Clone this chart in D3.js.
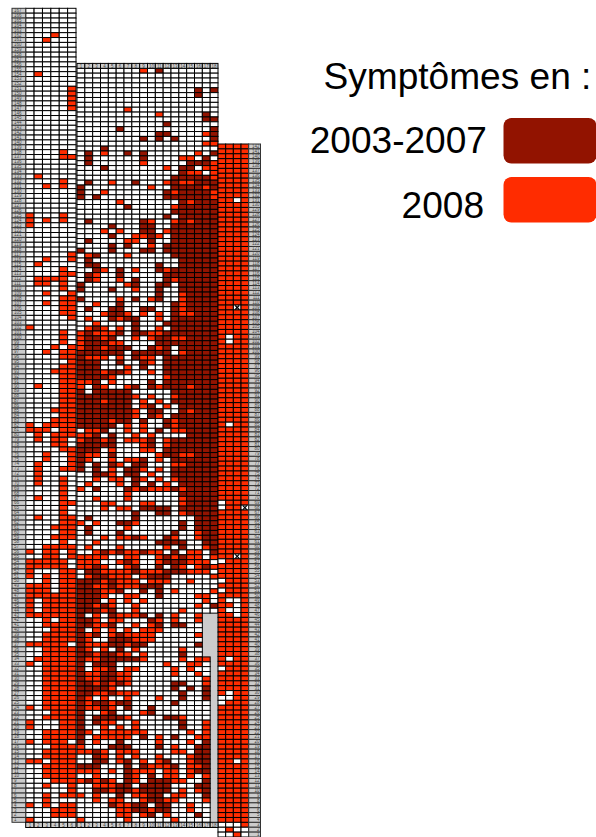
<!DOCTYPE html>
<html>
<head>
<meta charset="utf-8">
<style>
  html, body { margin: 0; background: #fff; }
  svg { display: block; }
  text { font-family: "Liberation Sans", Arial, sans-serif; }
</style>
</head>
<body>
<script src="https://cdn.jsdelivr.net/npm/d3@7"></script>
<script>
'use strict'

// one string per row, one char per column:
// . nothing, d 2003-2007, r 2008, x no data, m unknown year
const leftRows = [
  '......', '......', '......', '......', '......', '...r..', '..r...', '......', '......', '......',
  '......', '......', '......', '.r....', '......', '......', '.....r', '.....r', '.....r', '.....r',
  '.....r', '......', '......', '......', '......', '......', '......', '......', '......', '....r.',
  '....rr', '......', '......', '......', '.r....', '....r.', '..r.r.', '......', '......', '......',
  '......', '......', 'r...r.', 'r.r.r.', 'r.....', '......', '......', '......', '......', '......',
  '.....r', '..r..r', '.r....', '....r.', '....rr', '.rrrr.', '.rr.r.', '....r.', '..r..r', '....rr',
  '..r.rr', '....rr', '....rr', '.....r', '......', 'r.....', '....r.', '....r.', '....r.', '...r.r',
  '..r.rr', '....rr', '.....r', '....rr', '...rrr', '....rr', '....rr', '.r..rr', '....rr', '....rr',
  '....rr', '....rr', '...rrr', '....rr', '...rrr', 'r.rrrr', 'rrr.rr', '.r.rrr', '.r.rr.', '...rr.',
  '....rr', '..r..r', '..r..r', '.r...r', '.r..rr', '.r....', '.r..r.', '.r..r.', '....r.', '....r.',
  '.r..r.', '....rr', '....r.', '....r.', '.r..rr', '....rr', '...rrr', '....rr', '...rrr', '....r.',
  '..rrrr', 'r.rr.r', '..rr.r', 'rrrrr.', 'rrrrr.', 'r...rr', 'r.r.rr', '..r.rr', 'rrr.rr', 'rrr.rr',
  'rrrrrr', 'r.rrrr', 'r.rrrr', 'r.rrrr', 'rrrrrr', '..r.rr', '..rrrr', '...rrr', '..rrrr', '..rrrr',
  'rrrrr.', '..rrrr', '..rrrr', '.rrrrr', 'r.rrrr', '..rrrr', '..rrrr', '..rrrr', '..rrrr', '..rrrr',
  '..rrrr', '..rrrr', '..rrrr', 'r.rrrr', '...rrr', '..rrrr', 'r...rr', 'r...rr', '..rrrr', '..rrrr',
  'r.rrr.', '...rrr', '..rrrr', '..rrrr', 'rr.rrr', '..rrrr', '..rrrr', '..rrrr', '...rrr', '..r..r',
  '.....r', '..r.rr', '..r...', 'r.r.rr', '...rrr', '...rrr', 'r.....'
]

const middleRows = [
  '........r.d.......', '..................', '..................', '..................', '...............d.d',
  '...............d..', '..................', '..................', '......r...........', '..........r.....d.',
  '................dd', '...........d......', '.....d...........d', '..........dd....rd', '........d.d.d....d',
  '................rr', '...d..............', '.d.r..d.d......r.d', '.d......d....rr.d.', '.d......r.....dddr',
  '...d.......r.dd.rr', '.............drr.r', '............dddddr', '.d..r..d...rdrrddd', 'd........r..ddddrd',
  'd..r.......drddddr', 'd.d........ddddddr', '.....r.......drddd', '......d.....rddddd', '............dddddd',
  '...........d.ddddd', '.d......dr..rdrddd', '....d...dd..dddddd', '...r.r..dd.rdddddd', '....d..rrdr.dddddd',
  '.d....rr.d..dddddd', '....d.d..r.ddddddd', 'd...d...dd.ddddddd', '.rd...r.....dddddd', '.d...........ddddd',
  '.dd.......d..ddddd', '..dr.d.r..drdddddd', '.dr..d.....ddddddd', '.dr..r.d...drddddd', 'd.....rd..dd.ddddd',
  'd...d..r..d..ddddd', '..........d..rdddd', 'd....r.d.rd..rdddd', '..r..d......drdddd', '.d..dd..dd..drdddd',
  '...rddr.r.r.drrddd', '.r..drdd..r.dddddd', '..r....d...ddddddd', '.rdr.r.d..r.dddddd', 'rdrrrd.ddrrddddddd',
  'rddrd..r.rddrrdddd', 'rdddrr....dddddddd', 'rddrddd..drd.ddddd', 'dddddd.ddddd.rdddd', 'drrr.r.drr.ddddddd',
  'ddd..d..dr.ddddddd', 'ddd...r.d..ddddddd', 'dddrddr..r.ddddddd', 'ddddr......rdddddd', 'rrd.r....d.ddddddd',
  'r.dr..rd.drdddrddd', 'd.ddddd.....dddddd', 'dddddddr.r..rddddd', 'dddrddd.r.r.dddddd', 'ddddddd.rd.r.ddddd',
  'dddddddr.dd..drddd', 'dddddddr.dr.dddddd', 'ddddrdd.d..drddddd', 'ddddd.r.r..drddddd', '.rrd..r.r.d.rrdddd',
  'rrd.d..r.r....dddd', 'rddrd.rrrd.rdddddd', 'ddddd...rd.rdddddd', 'ddd.r...rr.ddddddd', 'drr.d.....rddrrddd',
  'dr..r.rrd.r.dddddd', 'd.d.dr.dd...rrdddd', 'd.d.r.ddr.r.dddddd', '..ddr.dd.r..dddddd', '..r.rr.dr.r.rddddd',
  '.r...r.d.d.r.ddddd', 'r.d...drdrrrdrdddd', '......r......ddddd', '..r...r......rdddd', '...rr...rr...rdddd',
  '...r.rr.dddd.ddddd', '.......d..dd.rdddd', '.d.....d.......ddd', 'r.r..ddr.....d.ddd', '.d....r......d.ddd',
  '.d...d......d..rdd', '...r.rrdr..dr..rdd', '..r.......dddd..dd', '.r...r.....r.d..rd', '..rdrdrrdrr.d.rr.d',
  'rrrr..rr..rdrdrr.r', 'rrr..rdr..rdddrrr.', 'rrdr..rd..d.dr.rdr', '.ddrrrrdrrrdddrrr.', '.rddrrr.rddd.....r',
  'dddrdrrr.rrr..r...', 'ddrrdrrrddd.......', 'dddrrd..d.d.r....r', 'dddr..rr..d....rr.', 'ddd.r.r.r.......r.',
  'ddrdr..r.......r.d', 'dddrd..r.....r....', 'd.r.drrrd.d.r..rxx', 'ddr.rr...dr.r..rxx', 'ddrrd..r.rd.dd..xx',
  'd.r.r.r.rrr.....xx', 'drd.rdrrrr.....rxx', 'dr..dddrrr......xx', 'drrrddrdd......dxx', 'dr.r.d.r.....r..xx',
  'ddrddrr.r....d..xx', 'drrdddddr....r.rrx', 'd.ddd......r..rr.x', 'd.rrd.rr....r.r..x', 'drrddrr.....r..r.x',
  'drrddrr.........rx', 'ddrdrdr.....dd..rx', 'ddddr.......d.d.dx', 'ddrrdrrr.....d..dx', 'dr.r..r...r..d..dx',
  'drddrdd.....d....x', 'drrdr.d..d.......x', 'd..rd...rd.......x', 'd.ddddr....ddr...x', 'd.drr..r.....d..rx',
  'd..r.r.r.....d..rx', 'dr.rrrrrr.....r.rx', 'd.rrrrr.d.r.d..rrx', 'd.r..d....r...r.dx', 'r...ddd...d.r..ddx',
  'rrdr.rrr....rr.ddx', '..dr.r.r..r...rddx', '..dd.rd.r.rd..rddx', 'ddd...d.drrrd.rrdx', 'rrr.r.drrr.rr.rddx',
  '..r...dr.d.rr.r.rx', 'rdrdr.dr.dddrr..dx', '..rrrdd.dddd...ddx', '..ddrddrdddd.r.rdx', 'r.r..d.rrdd.rr..dx',
  '..r.rr..rddrr...rx', '....drrdd.dd..r..x', '.....rrddrdd..r..x', '.....rr.rd.r...d.x', 'r.....r.....r....x'
]

const rightRows = [
  'rrrr', 'rrrr', 'rrrr', 'rrrr', 'rrrr', 'rrrr', 'rrrr', 'rrrr', 'rrrr', 'rrrr',
  'rrrr', 'rr.r', 'rrrr', 'rrrr', 'rrrr', 'rrrr', 'rrrr', 'rrrr', 'rrrr', 'rrrr',
  'rrrr', 'rrrr', 'rrrr', 'rrrr', 'rrrr', 'rrrr', 'rrrr', 'rrrr', 'rrrr', 'rrrr',
  'rrrr', 'rrrr', 'rrrr', 'rrmr', 'rrrr', 'rrrr', 'rrrr', 'rrrr', 'rrrr', 'r.rr',
  'r.rr', 'rrrr', 'rrrr', 'rrrr', 'rrrr', 'rrrr', 'rrrr', 'rrrr', 'rrrr', 'rrrr',
  'rrrr', 'rrrr', 'rrrr', 'rrrr', 'rrrr', 'rrrr', 'rrrr', 'r.rr', 'rrrr', 'rrrr',
  'rrrr', 'rrrr', 'rrrr', 'rrrr', 'rrrr', 'rrrr', 'rrrr', 'rrrr', 'rrrr', 'rrrr',
  'rrrr', 'rrrr', 'rrrr', '.rrr', '.rrm', 'rrrr', 'rrrr', 'rrrr', 'rrrr', 'rrrr',
  'rrrr', 'rrrr', 'rrrr', 'rrrr', 'rrmr', '.rrr', 'rrrr', 'rrrr', 'rrrr', '.rrr',
  'rrrr', '.rrr', 'rrrr', 'r..r', 'rr.r', 'r..r', 'rr.r', 'rrrr', 'rrrr', 'rrrr',
  'rrrr', 'rrrr', 'rrrr', 'rrrr', 'rrrr', 'r.rr', 'rrrr', '.rrr', 'rrrr', 'rrrr',
  'rrrr', 'rrrr', 'r.rr', '..rr', '.rrr', 'rrrr', 'rrrr', 'rrrr', 'rrrr', 'rrrr',
  'rrrr', 'rrrr', 'rrrr', 'rrrr', 'rrrr', 'rrrr', 'rr.r', 'rrrr', 'rrrr', 'rrrr',
  'rrrr', 'rrrr', 'rrrr', 'rrrr', 'rrrr', 'rrrr', 'rrrr', 'rrrr', 'rrrr', '...r',
  '.r..', '..r.'
]

const legendTitle = 'Symptômes en :'
const legendLabels = ['2003-2007', '2008']
const legendCodes = ['d', 'r']

const width = 596
const height = 837

const color = d3.scaleOrdinal()
  .domain(['.', 'd', 'r', 'x', 'm'])
  .range(['#fff', '#921300', '#ff2c00', '#ccc', '#fff'])

const svg = d3.select('body').append('svg')
  .attr('width', width)
  .attr('height', height)

function band (n, from, to) {
  return d3.scaleBand().domain(d3.range(1, n + 1)).range([from, to])
}

function drawPanel (rows, x, top, bottom) {
  const y = d3.scaleBand().domain(d3.range(rows.length)).range([top, bottom])
  const cells = rows.flatMap((row, i) => row.split('').map((v, j) => ({ v: v, row: i, col: j + 1 })))
  const g = svg.append('g')

  g.selectAll('rect.nodata')
    .data(cells.filter(d => d.v === 'x'))
    .enter().append('rect')
    .attr('class', 'nodata')
    .attr('x', d => x(d.col) - 0.5)
    .attr('y', d => y(d.row) - 0.5)
    .attr('width', x.bandwidth() + 1)
    .attr('height', y.bandwidth() + 1)
    .attr('fill', color('x'))

  g.selectAll('rect.cell')
    .data(cells.filter(d => d.v !== 'x'))
    .enter().append('rect')
    .attr('class', 'cell')
    .attr('x', d => x(d.col))
    .attr('y', d => y(d.row))
    .attr('width', x.bandwidth())
    .attr('height', y.bandwidth())
    .attr('fill', d => color(d.v))
    .attr('stroke', '#000')
    .attr('stroke-width', 1)

  g.selectAll('path.unknown')
    .data(cells.filter(d => d.v === 'm'))
    .enter().append('path')
    .attr('class', 'unknown')
    .attr('d', d3.symbol(d3.symbolX, 12))
    .attr('transform', d => 'translate(' + (x(d.col) + x.bandwidth() / 2) + ',' + (y(d.row) + y.bandwidth() / 2) + ')')
    .attr('stroke', '#000')
    .attr('stroke-width', 1.2)
    .attr('fill', 'none')

  return y
}

// row labels sit in a grey strip beside the cells
function rowStrip (rows, y, x0, x1, side, firstLabel) {
  const labels = d3.range(rows.length)
  const g = svg.append('g')

  g.selectAll('rect')
    .data(labels)
    .enter().append('rect')
    .attr('x', x0)
    .attr('y', d => y(d))
    .attr('width', x1 - x0)
    .attr('height', y.bandwidth())
    .attr('fill', '#ccc')
    .attr('stroke', '#333')
    .attr('stroke-width', 1)

  const axis = (side === 'left' ? d3.axisRight(y) : d3.axisLeft(y))
    .tickSize(0)
    .tickPadding(0)
    .tickFormat(d => firstLabel - d)

  const a = g.append('g')
    .attr('transform', 'translate(' + (side === 'left' ? x0 + 2 : x1 - 1) + ',0)')
    .call(axis)
  a.select('.domain').remove()
  a.selectAll('text').attr('font-size', 4.5).attr('fill', '#444')
}

function colStrip (x, y0, y1) {
  const g = svg.append('g')

  g.selectAll('rect')
    .data(x.domain())
    .enter().append('rect')
    .attr('x', d => x(d))
    .attr('y', y0)
    .attr('width', x.bandwidth())
    .attr('height', y1 - y0)
    .attr('fill', '#ccc')
    .attr('stroke', '#000')
    .attr('stroke-width', 1)

  const a = g.append('g')
    .attr('transform', 'translate(0,' + (y0 + 1) + ')')
    .call(d3.axisBottom(x).tickSize(0).tickPadding(0))
  a.select('.domain').remove()
  a.selectAll('text').attr('font-size', 4.5).attr('fill', '#444')
}

const xLeft = band(6, 25.7, 76)
const xMiddle = band(18, 77, 218)
const xRight = band(4, 218, 248.7)

const yLeft = drawPanel(leftRows, xLeft, 8.3, 822.3)
const yMiddle = drawPanel(middleRows, xMiddle, 68.3, 822.3)
const yRight = drawPanel(rightRows, xRight, 144, 837)

rowStrip(leftRows, yLeft, 12, 25.7, 'left', leftRows.length)
rowStrip(rightRows, yRight, 248.7, 260.5, 'right', rightRows.length)

colStrip(xMiddle, 63.4, 68.3)
colStrip(xLeft, 822.3, 827.5)
colStrip(xMiddle, 822.3, 827.5)

svg.append('text')
  .attr('x', 323.5)
  .attr('y', 89)
  .attr('font-size', 37.1)
  .attr('fill', '#000')
  .text(legendTitle)

const legendY = d3.scaleBand().domain(legendCodes).range([118, 236]).paddingInner(0)

const legend = svg.selectAll('g.legend')
  .data(legendCodes)
  .enter().append('g')
  .attr('class', 'legend')
  .attr('transform', d => 'translate(0,' + legendY(d) + ')')

legend.append('rect')
  .attr('x', 503.5)
  .attr('width', 93)
  .attr('height', 45.5)
  .attr('rx', 8)
  .attr('fill', d => color(d))

legend.append('text')
  .attr('x', (d, i) => i === 0 ? 487 : 484)
  .attr('y', (d, i) => i === 0 ? 35 : 41)
  .attr('text-anchor', 'end')
  .attr('font-size', 37.1)
  .attr('fill', '#000')
  .text((d, i) => legendLabels[i])
</script>
</body>
</html>
